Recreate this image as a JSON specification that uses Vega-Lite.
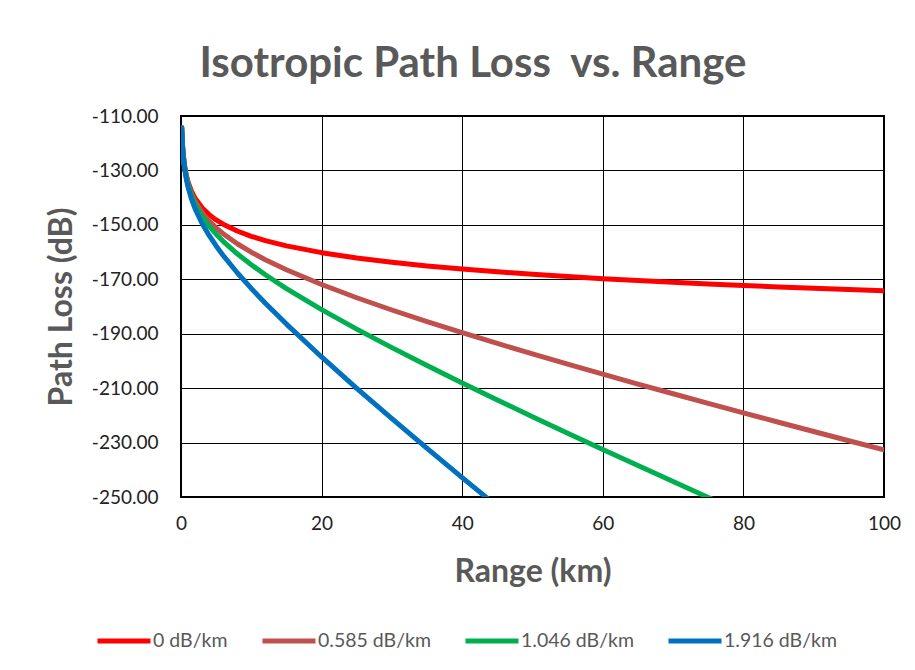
{
  "$schema": "https://vega.github.io/schema/vega-lite/v6.json",
  "width": 703,
  "height": 381,
  "autosize": {"type": "none"},
  "padding": {"left": 181, "top": 116, "right": 31, "bottom": 173},
  "background": "white",
  "title": {
    "text": "Isotropic Path Loss\u00a0 vs. Range",
    "font": "Lato",
    "fontSize": 42,
    "fontWeight": "bold",
    "color": "#595959",
    "anchor": "middle",
    "frame": "bounds",
    "offset": 21
  },
  "data": {
    "values": [
      {"R": 0.1, "loss": -114.2, "s": "0 dB/km"},
      {"R": 0.2, "loss": -120.22, "s": "0 dB/km"},
      {"R": 0.3, "loss": -123.74, "s": "0 dB/km"},
      {"R": 0.5, "loss": -128.18, "s": "0 dB/km"},
      {"R": 0.75, "loss": -131.7, "s": "0 dB/km"},
      {"R": 1, "loss": -134.2, "s": "0 dB/km"},
      {"R": 1.5, "loss": -137.72, "s": "0 dB/km"},
      {"R": 2, "loss": -140.22, "s": "0 dB/km"},
      {"R": 3, "loss": -143.74, "s": "0 dB/km"},
      {"R": 4, "loss": -146.24, "s": "0 dB/km"},
      {"R": 5, "loss": -148.18, "s": "0 dB/km"},
      {"R": 6, "loss": -149.76, "s": "0 dB/km"},
      {"R": 8, "loss": -152.26, "s": "0 dB/km"},
      {"R": 10, "loss": -154.2, "s": "0 dB/km"},
      {"R": 12, "loss": -155.78, "s": "0 dB/km"},
      {"R": 15, "loss": -157.72, "s": "0 dB/km"},
      {"R": 20, "loss": -160.22, "s": "0 dB/km"},
      {"R": 25, "loss": -162.16, "s": "0 dB/km"},
      {"R": 30, "loss": -163.74, "s": "0 dB/km"},
      {"R": 35, "loss": -165.08, "s": "0 dB/km"},
      {"R": 40, "loss": -166.24, "s": "0 dB/km"},
      {"R": 45, "loss": -167.26, "s": "0 dB/km"},
      {"R": 50, "loss": -168.18, "s": "0 dB/km"},
      {"R": 55, "loss": -169.01, "s": "0 dB/km"},
      {"R": 60, "loss": -169.76, "s": "0 dB/km"},
      {"R": 65, "loss": -170.46, "s": "0 dB/km"},
      {"R": 70, "loss": -171.1, "s": "0 dB/km"},
      {"R": 75, "loss": -171.7, "s": "0 dB/km"},
      {"R": 80, "loss": -172.26, "s": "0 dB/km"},
      {"R": 85, "loss": -172.79, "s": "0 dB/km"},
      {"R": 90, "loss": -173.28, "s": "0 dB/km"},
      {"R": 95, "loss": -173.75, "s": "0 dB/km"},
      {"R": 100, "loss": -174.2, "s": "0 dB/km"},

      {"R": 0.1, "loss": -114.26, "s": "0.585 dB/km"},
      {"R": 0.2, "loss": -120.34, "s": "0.585 dB/km"},
      {"R": 0.3, "loss": -123.92, "s": "0.585 dB/km"},
      {"R": 0.5, "loss": -128.47, "s": "0.585 dB/km"},
      {"R": 0.75, "loss": -132.14, "s": "0.585 dB/km"},
      {"R": 1, "loss": -134.79, "s": "0.585 dB/km"},
      {"R": 1.5, "loss": -138.6, "s": "0.585 dB/km"},
      {"R": 2, "loss": -141.39, "s": "0.585 dB/km"},
      {"R": 3, "loss": -145.5, "s": "0.585 dB/km"},
      {"R": 4, "loss": -148.58, "s": "0.585 dB/km"},
      {"R": 5, "loss": -151.11, "s": "0.585 dB/km"},
      {"R": 6, "loss": -153.27, "s": "0.585 dB/km"},
      {"R": 8, "loss": -156.94, "s": "0.585 dB/km"},
      {"R": 10, "loss": -160.05, "s": "0.585 dB/km"},
      {"R": 12, "loss": -162.8, "s": "0.585 dB/km"},
      {"R": 15, "loss": -166.5, "s": "0.585 dB/km"},
      {"R": 20, "loss": -171.92, "s": "0.585 dB/km"},
      {"R": 25, "loss": -176.79, "s": "0.585 dB/km"},
      {"R": 30, "loss": -181.29, "s": "0.585 dB/km"},
      {"R": 35, "loss": -185.56, "s": "0.585 dB/km"},
      {"R": 40, "loss": -189.64, "s": "0.585 dB/km"},
      {"R": 45, "loss": -193.59, "s": "0.585 dB/km"},
      {"R": 50, "loss": -197.43, "s": "0.585 dB/km"},
      {"R": 55, "loss": -201.19, "s": "0.585 dB/km"},
      {"R": 60, "loss": -204.86, "s": "0.585 dB/km"},
      {"R": 65, "loss": -208.49, "s": "0.585 dB/km"},
      {"R": 70, "loss": -212.05, "s": "0.585 dB/km"},
      {"R": 75, "loss": -215.58, "s": "0.585 dB/km"},
      {"R": 80, "loss": -219.06, "s": "0.585 dB/km"},
      {"R": 85, "loss": -222.52, "s": "0.585 dB/km"},
      {"R": 90, "loss": -225.93, "s": "0.585 dB/km"},
      {"R": 95, "loss": -229.33, "s": "0.585 dB/km"},
      {"R": 100, "loss": -232.7, "s": "0.585 dB/km"},

      {"R": 0.1, "loss": -114.3, "s": "1.046 dB/km"},
      {"R": 0.2, "loss": -120.43, "s": "1.046 dB/km"},
      {"R": 0.3, "loss": -124.05, "s": "1.046 dB/km"},
      {"R": 0.5, "loss": -128.7, "s": "1.046 dB/km"},
      {"R": 0.75, "loss": -132.48, "s": "1.046 dB/km"},
      {"R": 1, "loss": -135.25, "s": "1.046 dB/km"},
      {"R": 1.5, "loss": -139.29, "s": "1.046 dB/km"},
      {"R": 2, "loss": -142.31, "s": "1.046 dB/km"},
      {"R": 3, "loss": -146.88, "s": "1.046 dB/km"},
      {"R": 4, "loss": -150.42, "s": "1.046 dB/km"},
      {"R": 5, "loss": -153.41, "s": "1.046 dB/km"},
      {"R": 6, "loss": -156.04, "s": "1.046 dB/km"},
      {"R": 8, "loss": -160.63, "s": "1.046 dB/km"},
      {"R": 10, "loss": -164.66, "s": "1.046 dB/km"},
      {"R": 12, "loss": -168.33, "s": "1.046 dB/km"},
      {"R": 15, "loss": -173.41, "s": "1.046 dB/km"},
      {"R": 20, "loss": -181.14, "s": "1.046 dB/km"},
      {"R": 25, "loss": -188.31, "s": "1.046 dB/km"},
      {"R": 30, "loss": -195.12, "s": "1.046 dB/km"},
      {"R": 35, "loss": -201.69, "s": "1.046 dB/km"},
      {"R": 40, "loss": -208.08, "s": "1.046 dB/km"},
      {"R": 45, "loss": -214.33, "s": "1.046 dB/km"},
      {"R": 50, "loss": -220.48, "s": "1.046 dB/km"},
      {"R": 55, "loss": -226.54, "s": "1.046 dB/km"},
      {"R": 60, "loss": -232.52, "s": "1.046 dB/km"},
      {"R": 65, "loss": -238.45, "s": "1.046 dB/km"},
      {"R": 70, "loss": -244.32, "s": "1.046 dB/km"},
      {"R": 75, "loss": -250.15, "s": "1.046 dB/km"},
      {"R": 80, "loss": -255.94, "s": "1.046 dB/km"},

      {"R": 0.1, "loss": -114.39, "s": "1.916 dB/km"},
      {"R": 0.2, "loss": -120.6, "s": "1.916 dB/km"},
      {"R": 0.3, "loss": -124.31, "s": "1.916 dB/km"},
      {"R": 0.5, "loss": -129.14, "s": "1.916 dB/km"},
      {"R": 0.75, "loss": -133.14, "s": "1.916 dB/km"},
      {"R": 1, "loss": -136.12, "s": "1.916 dB/km"},
      {"R": 1.5, "loss": -140.59, "s": "1.916 dB/km"},
      {"R": 2, "loss": -144.05, "s": "1.916 dB/km"},
      {"R": 3, "loss": -149.49, "s": "1.916 dB/km"},
      {"R": 4, "loss": -153.9, "s": "1.916 dB/km"},
      {"R": 5, "loss": -157.76, "s": "1.916 dB/km"},
      {"R": 6, "loss": -161.26, "s": "1.916 dB/km"},
      {"R": 8, "loss": -167.59, "s": "1.916 dB/km"},
      {"R": 10, "loss": -173.36, "s": "1.916 dB/km"},
      {"R": 12, "loss": -178.77, "s": "1.916 dB/km"},
      {"R": 15, "loss": -186.46, "s": "1.916 dB/km"},
      {"R": 20, "loss": -198.54, "s": "1.916 dB/km"},
      {"R": 25, "loss": -210.06, "s": "1.916 dB/km"},
      {"R": 30, "loss": -221.22, "s": "1.916 dB/km"},
      {"R": 35, "loss": -232.14, "s": "1.916 dB/km"},
      {"R": 40, "loss": -242.88, "s": "1.916 dB/km"},
      {"R": 45, "loss": -253.48, "s": "1.916 dB/km"}
    ]
  },
  "mark": {"type": "line", "strokeWidth": 5, "strokeCap": "round", "strokeJoin": "round", "clip": true},
  "encoding": {
    "x": {
      "field": "R",
      "type": "quantitative",
      "scale": {"domain": [0, 100], "nice": false, "zero": false},
      "axis": {
        "title": "Range (km)",
        "values": [0, 20, 40, 60, 80, 100],
        "format": "d",
        "labelFlush": false,
        "labelPadding": 17,
        "titlePadding": 23
      }
    },
    "y": {
      "field": "loss",
      "type": "quantitative",
      "scale": {"domain": [-250, -110], "nice": false, "zero": false},
      "axis": {
        "title": "Path Loss (dB)",
        "values": [-250, -230, -210, -190, -170, -150, -130, -110],
        "format": ".2f",
        "labelExpr": "replace(datum.label, '\u2212', '-')",
        "labelPadding": 23,
        "titlePadding": 13
      }
    },
    "color": {
      "field": "s",
      "type": "nominal",
      "scale": {
        "domain": ["0 dB/km", "0.585 dB/km", "1.046 dB/km", "1.916 dB/km"],
        "range": ["#FF0000", "#C0504D", "#00B050", "#0070C0"]
      },
      "legend": {
        "title": null,
        "orient": "none",
        "direction": "horizontal",
        "legendX": -86,
        "legendY": 496,
        "gridAlign": "each",
        "symbolType": "stroke",
        "symbolSize": 2809,
        "symbolStrokeWidth": 5,
        "labelOffset": 0,
        "columnPadding": 24,
        "labelFont": "Lato",
        "labelFontSize": 19.5,
        "labelColor": "#595959"
      }
    },
    "order": {"field": "R", "type": "quantitative"}
  },
  "config": {
    "view": {"stroke": "#000000", "strokeWidth": 2},
    "axis": {
      "domain": false,
      "ticks": false,
      "grid": true,
      "gridColor": "#000000",
      "gridOpacity": 1,
      "gridWidth": 1,
      "labelFont": "Lato",
      "labelFontSize": 19,
      "labelColor": "#222222",
      "titleFont": "Lato",
      "titleFontSize": 32,
      "titleFontWeight": "bold",
      "titleColor": "#595959"
    }
  }
}
